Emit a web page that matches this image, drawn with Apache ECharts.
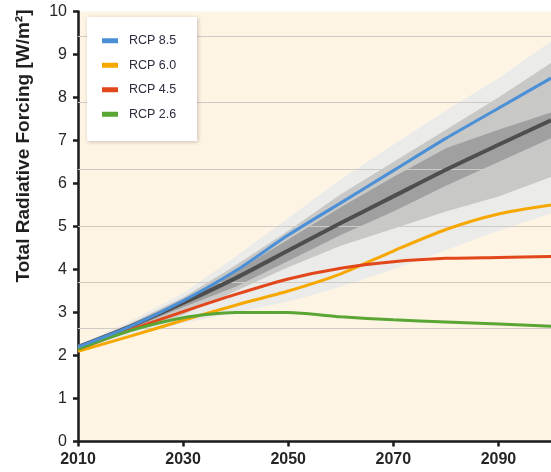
<!DOCTYPE html>
<html>
<head>
<meta charset="utf-8">
<script src="https://cdn.jsdelivr.net/npm/echarts@6/dist/echarts.min.js"></script>
<style>
  html, body { margin: 0; padding: 0; background: #ffffff; }
  #chart { width: 551px; height: 472px; }
</style>
</head>
<body>
<div id="chart"></div>
<script>
// Years of the projection (decadal points)
const years = [2010, 2020, 2030, 2040, 2050, 2060, 2070, 2080, 2090, 2100];

// Total radiative forcing of the four RCP scenarios [W/m²]
const rcp85 = [2.2, 2.68, 3.27, 3.97, 4.8, 5.55, 6.3, 7.05, 7.75, 8.45];
const rcp60 = [2.1, 2.45, 2.82, 3.17, 3.5, 3.9, 4.43, 4.93, 5.29, 5.5];
const rcp45 = [2.15, 2.6, 3.02, 3.42, 3.78, 4.03, 4.18, 4.26, 4.28, 4.3];
const rcp26 = [2.15, 2.58, 2.88, 3.0, 3.0, 2.9, 2.83, 2.78, 2.73, 2.68];

// Baseline ensemble: median and uncertainty ranges
const median    = [2.2, 2.68, 3.22, 3.8, 4.44, 5.08, 5.7, 6.32, 6.9, 7.47];
const outerHigh = [2.25, 2.8, 3.45, 4.3, 5.2, 6.1, 6.9, 7.7, 8.45, 9.3];
const outerLow  = [2.1, 2.45, 2.75, 3.0, 3.25, 3.6, 4.0, 4.45, 4.9, 5.3];
const midHigh   = [2.22, 2.75, 3.35, 4.1, 4.9, 5.75, 6.5, 7.25, 8.0, 8.8];
const midLow    = [2.15, 2.55, 2.95, 3.5, 4.05, 4.55, 4.95, 5.35, 5.7, 6.15];
const innerHigh = [2.2, 2.72, 3.3, 3.95, 4.7, 5.45, 6.15, 6.82, 7.25, 7.65];
const innerLow  = [2.18, 2.62, 3.12, 3.6, 4.2, 4.8, 5.35, 5.95, 6.5, 7.05];

// Horizontal reference levels (CO2-equivalent concentration lines, in W/m²)
const referenceLevels = [2.63, 3.71, 5.0, 6.34, 7.88, 9.42];

const yTicks = [0, 1, 2, 3, 4, 5, 6, 7, 8, 9, 10];
const xLabels = [2010, 2030, 2050, 2070, 2090];

const SMOOTH = 0.25;
const pairs = (vals) => years.map((y, i) => [y, vals[i]]);

// A shaded range drawn as one polygon: upper edge left→right, lower edge right→left
function band(lo, hi, color, z) {
  return {
    type: 'custom', silent: true, z: z, clip: true,
    data: years.map((y, i) => [y, lo[i], hi[i]]),
    encode: { x: 0, y: [1, 2] },
    renderItem: (params, api) => {
      if (params.dataIndex !== 0) return null;
      const upper = years.map((y, i) => api.coord([y, hi[i]]));
      const lower = years.map((y, i) => api.coord([y, lo[i]])).reverse();
      return {
        type: 'polygon',
        shape: { points: upper.concat(lower) },
        style: { fill: color, stroke: null }
      };
    }
  };
}

function scenario(name, vals, color, z) {
  return {
    name: name, type: 'line', data: pairs(vals), symbol: 'none', smooth: SMOOTH,
    lineStyle: { color: color, width: 3 }, itemStyle: { color: color }, z: z
  };
}

const chart = echarts.init(document.getElementById('chart'), null, { renderer: 'canvas' });

const axisColor = '#1b1b1b';
const textColor = '#262626';

chart.setOption({
  animation: false,
  backgroundColor: '#ffffff',
  grid: {
    left: 78, top: 11.5, right: -9, bottom: 30.5,
    show: true, backgroundColor: '#fef4e4', borderWidth: 0
  },
  xAxis: {
    type: 'value', min: 2010, max: 2100, interval: 20,
    axisLine: { show: true, lineStyle: { color: axisColor, width: 2.5 } },
    axisTick: { show: true, length: 5, lineStyle: { color: axisColor, width: 2.5 } },
    splitLine: { show: false },
    axisLabel: {
      showMaxLabel: false, margin: 10,
      color: textColor, fontFamily: 'Liberation Sans, Arial, sans-serif',
      fontWeight: 'bold', fontSize: 16,
      formatter: (v) => (xLabels.indexOf(v) >= 0 ? String(v) : '')
    }
  },
  yAxis: {
    type: 'value', min: 0, max: 10, interval: 1,
    axisLine: { show: true, lineStyle: { color: axisColor, width: 2.5 } },
    axisTick: { show: true, length: 5, lineStyle: { color: axisColor, width: 2.5 } },
    splitLine: { show: false },
    axisLabel: {
      margin: 11, color: textColor, fontFamily: 'Liberation Sans, Arial, sans-serif',
      fontSize: 16,
      formatter: (v) => (yTicks.indexOf(v) >= 0 ? String(v) : '')
    }
  },
  legend: {
    orient: 'vertical', left: 102, top: 33, padding: 0,
    itemWidth: 16, itemHeight: 5, itemGap: 9, icon: 'rect',
    data: ['RCP 8.5', 'RCP 6.0', 'RCP 4.5', 'RCP 2.6'],
    textStyle: {
      color: '#2b2d3e', fontSize: 12.5, lineHeight: 15.5,
      fontFamily: 'Liberation Sans, Arial, sans-serif',
      padding: [0, 0, 0, 6]
    },
    z: 20
  },
  graphic: [
    {
      type: 'rect', left: 87, top: 17, z: 15,
      shape: { width: 110, height: 124 },
      style: {
        fill: '#ffffff', shadowBlur: 4, shadowColor: 'rgba(0,0,0,0.22)',
        shadowOffsetX: 1, shadowOffsetY: 1
      }
    },
    {
      type: 'text', x: 24, y: 146, rotation: Math.PI / 2, z: 15,
      style: {
        text: 'Total Radiative Forcing [W/m²]',
        fill: '#1f1f1f', fontSize: 19, fontWeight: 'bold',
        fontFamily: 'Liberation Sans, Arial, sans-serif',
        align: 'center', verticalAlign: 'middle'
      }
    }
  ],
  series: [
    {
      type: 'line', data: [], silent: true, z: 1,
      markLine: {
        silent: true, symbol: 'none', label: { show: false },
        lineStyle: { color: '#cfcbc4', width: 1.2, type: 'solid' },
        data: referenceLevels.map((v) => ({ yAxis: v }))
      }
    },
    band(outerLow, outerHigh, '#ebebea', 2),
    band(midLow, midHigh, '#c8c8c7', 3),
    band(innerLow, innerHigh, '#a0a0a0', 4),
    {
      type: 'line', data: pairs(median), symbol: 'none', smooth: SMOOTH, silent: true,
      lineStyle: { color: '#4e4e4e', width: 4 }, z: 5
    },
    scenario('RCP 6.0', rcp60, '#f6a800', 6),
    scenario('RCP 4.5', rcp45, '#e2461b', 7),
    scenario('RCP 2.6', rcp26, '#59a635', 8),
    scenario('RCP 8.5', rcp85, '#4b8fd6', 9)
  ]
});
</script>
</body>
</html>
